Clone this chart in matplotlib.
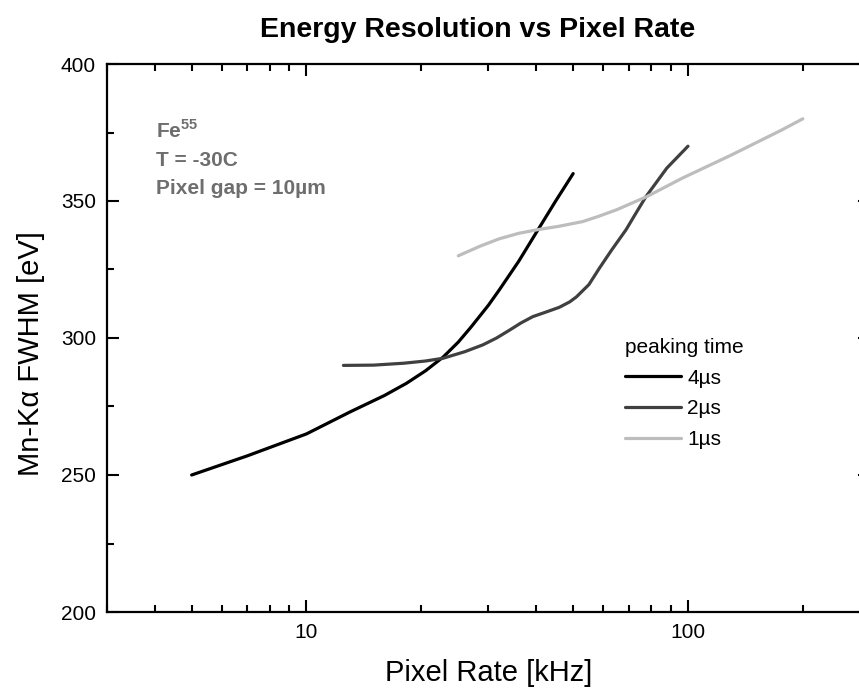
import matplotlib
matplotlib.use("Agg")
import matplotlib.pyplot as plt
from matplotlib.ticker import FixedLocator, NullFormatter, FixedFormatter, LogLocator

plt.rcParams['font.family'] = ['Liberation Sans', 'DejaVu Sans']

# Data
rate_4us = [5, 7, 10, 13, 16, 18.3, 20.5, 22.8, 25, 27, 30, 32, 36, 40.4, 45, 50]
fwhm_4us = [250, 257, 265, 273, 279, 283.5, 288, 293, 298.5, 304, 312, 317.5, 328, 339.4, 350, 360]

rate_2us = [12.5, 15, 18, 20.5, 22.8, 26, 29, 31.5, 34, 36.5, 39.2, 42.5, 46, 49, 51, 55, 58.6, 63, 68.8, 73, 77.6, 88, 100]
fwhm_2us = [290, 290.1, 290.8, 291.6, 292.6, 295, 297.5, 300, 302.8, 305.5, 307.8, 309.5, 311.2, 313.2, 315, 319.5, 325.5, 332, 339.5, 345.5, 351.6, 362, 370]

rate_1us = [25, 28.5, 32, 36, 40.6, 46, 53, 58, 65, 78, 96.5, 130, 176, 200]
fwhm_1us = [330, 333.5, 336.2, 338.2, 339.6, 340.8, 342.5, 344.3, 346.8, 351.6, 358.3, 366.8, 375.9, 380]

series_labels = ['4\u00b5s', '2\u00b5s', '1\u00b5s']
series_colors = ['#000000', '#404040', '#bdbdbd']

x_major_ticks = [10, 100]
x_major_labels = ['10', '100']
y_ticks = [200, 250, 300, 350, 400]

fig = plt.figure(figsize=(8.59, 6.92), dpi=100)
ax = fig.add_axes([107/859, (692-612)/692, (870-107)/859, (612-64)/692])

for xs, ys, lab, col in zip([rate_4us, rate_2us, rate_1us],
                            [fwhm_4us, fwhm_2us, fwhm_1us],
                            series_labels, series_colors):
    ax.plot(xs, ys, color=col, lw=2.3, label=lab, solid_capstyle='round',
            solid_joinstyle='round')

ax.set_xscale('log')
ax.set_xlim(3, 300)
ax.set_ylim(200, 400)

ax.xaxis.set_major_locator(FixedLocator(x_major_ticks))
ax.xaxis.set_major_formatter(FixedFormatter(x_major_labels))
ax.xaxis.set_minor_locator(LogLocator(base=10, subs=range(2, 10), numticks=20))
ax.xaxis.set_minor_formatter(NullFormatter())
ax.set_yticks(y_ticks)
ax.set_yticks([225, 275, 325, 375], minor=True)

ax.tick_params(which='both', direction='in', top=True, right=True, width=1.5,
               labelsize=15, pad=8)
ax.tick_params(which='major', length=8.5)
ax.tick_params(which='minor', length=5)
for s in ax.spines.values():
    s.set_linewidth(1.6)

ax.set_xlabel('Pixel Rate [kHz]', fontsize=21, labelpad=12)
ax.set_ylabel('Mn-K\u03b1 FWHM [eV]', fontsize=21)
ax.yaxis.set_label_coords(-0.081, 0.472)
fig.text(478/859, 1-30/692, 'Energy Resolution vs Pixel Rate',
         ha='center', va='center', fontsize=20.5, fontweight='bold')

gray = '#6e6e6e'
fig.text(156/859, 1-131/692, 'Fe$^{\\mathregular{55}}$', color=gray, fontsize=15,
         fontweight='bold', va='center', ha='left')
fig.text(156/859, 1-160/692, 'T = -30C', color=gray, fontsize=15,
         fontweight='bold', va='center', ha='left')
fig.text(156/859, 1-188/692, 'Pixel gap = 10\u00b5m', color=gray, fontsize=15,
         fontweight='bold', va='center', ha='left')

leg = ax.legend(title='peaking time', loc='upper left',
                bbox_to_anchor=(625/859, 1-338/692), bbox_transform=fig.transFigure,
                frameon=False, fontsize=15, title_fontsize=15,
                handlelength=2.7, handletextpad=0.3, labelspacing=0.56,
                borderpad=0, borderaxespad=0)
leg._legend_box.align = 'left'

fig.savefig('out.png', dpi=100)
